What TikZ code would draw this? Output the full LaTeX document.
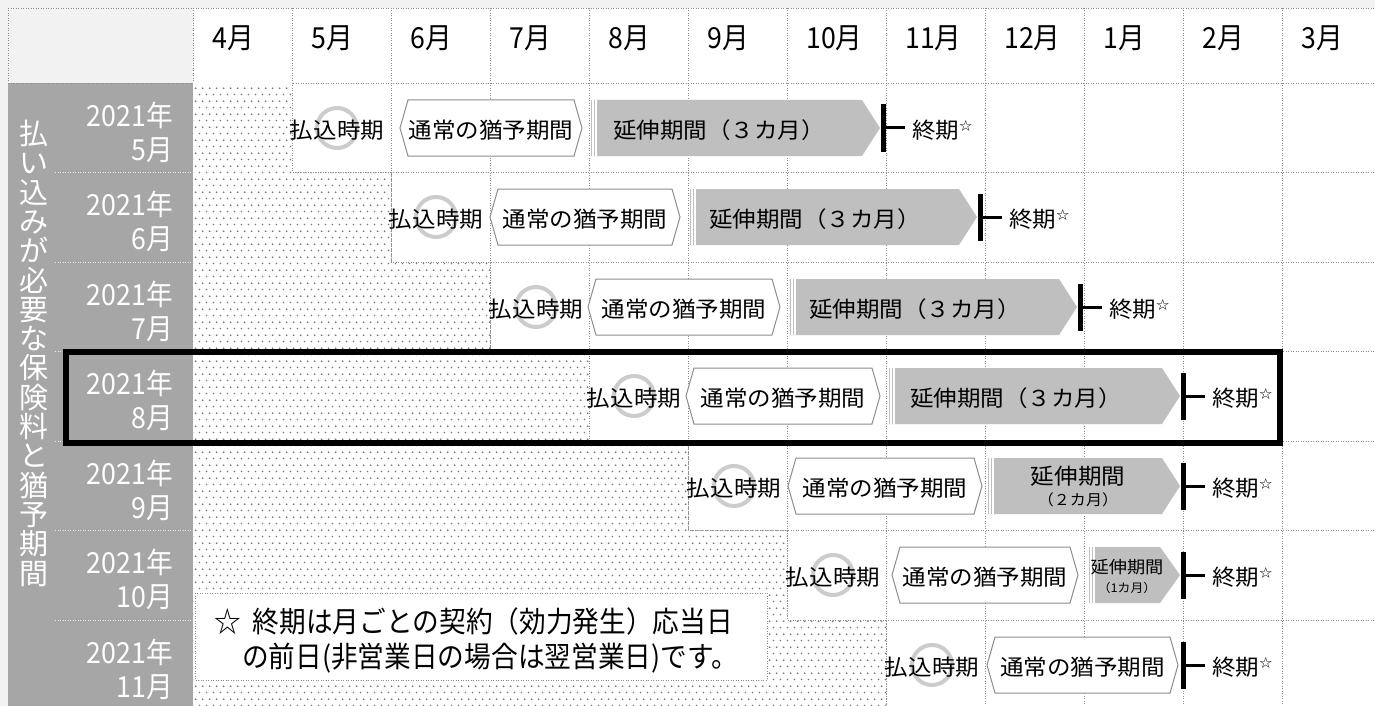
\documentclass[tikz,border=0pt]{standalone}
\usepackage{fontspec}
\setmainfont{Noto Sans CJK JP}
\newfontfamily\jpc[FakeStretch=0.92]{Noto Sans CJK JP}
\newfontfamily\jpw[FakeStretch=1.07]{Noto Sans CJK JP}
\usetikzlibrary{patterns}
\definecolor{bggray}{HTML}{F2F2F2}
\definecolor{colgray}{HTML}{A6A6A6}
\definecolor{gridgray}{HTML}{8C8C8C}
\definecolor{hexgray}{HTML}{8C8C8C}
\definecolor{extgray}{HTML}{BFBFBF}
\definecolor{ringgray}{HTML}{CCCCCC}
\definecolor{dotgray}{HTML}{7A7A7A}
\pgfdeclarepatternformonly{halftone}{\pgfqpoint{0pt}{0pt}}{\pgfqpoint{6.6pt}{13.2pt}}{\pgfqpoint{6.6pt}{13.2pt}}{%
  \pgfpathcircle{\pgfqpoint{1.6pt}{1.6pt}}{0.95pt}%
  \pgfpathcircle{\pgfqpoint{4.9pt}{8.2pt}}{0.95pt}%
  \pgfusepath{fill}}
\begin{document}
\begin{tikzpicture}[x=1pt,y=-1pt,
  gridln/.style={gridgray,line width=0.8pt,dash pattern=on 0.8pt off 1.7pt},
  sepln/.style={white!80!colgray,line width=0.8pt,dash pattern=on 0.8pt off 1.7pt},
  hexbox/.style={draw=hexgray,line width=1pt,fill=white},
  extcut/.style={white,line width=1.1pt},
  payring/.style={draw=ringgray,line width=4pt},
  paytxt/.style={inner sep=0pt,font=\jpw\fontsize{22}{26}\selectfont},
  endbar/.style={fill=black,inner sep=0pt,minimum width=5pt,minimum height=47pt},
  endtxt/.style={anchor=west,inner sep=0pt,font=\jpw\fontsize{22}{26}\selectfont},
  endln/.style={line width=3pt,shorten >=7pt},
  monthtxt/.style={anchor=west,inner sep=0pt,font=\jpc\fontsize{29}{29}\selectfont},
  yeartxt/.style={anchor=east,inner sep=0pt,text=white,font=\jpc\fontsize{29}{29}\selectfont}]
\useasboundingbox (0,0) rectangle (1375,706);
\fill[bggray] (0,0) rectangle (1375,706);
\fill[white] (193,8) rectangle (1375,706);
\fill[colgray] (8,83) rectangle (193,706);

% grid
\draw[gridln] (8,8) -- (1375,8);
\draw[gridln] (8,8) -- (8,83);
\draw[gridln] (8,83) -- (1375,83);
\draw[gridln] (193,8) -- (193,706);
\draw[gridln] (292,8) -- (292,706);
\draw[gridln] (391,8) -- (391,706);
\draw[gridln] (490,8) -- (490,706);
\draw[gridln] (589,8) -- (589,706);
\draw[gridln] (688,8) -- (688,706);
\draw[gridln] (787,8) -- (787,706);
\draw[gridln] (886,8) -- (886,706);
\draw[gridln] (985,8) -- (985,706);
\draw[gridln] (1084,8) -- (1084,706);
\draw[gridln] (1183,8) -- (1183,706);
\draw[gridln] (1282,8) -- (1282,706);
\draw[gridln] (193,172.5) -- (1375,172.5);
\draw[gridln] (193,262) -- (1375,262);
\draw[gridln] (193,351.5) -- (1375,351.5);
\draw[gridln] (193,441) -- (1375,441);
\draw[gridln] (193,530.5) -- (1375,530.5);
\draw[gridln] (193,620) -- (1375,620);
\draw[sepln] (55,172.5) -- (193,172.5);
\draw[sepln] (55,262) -- (193,262);
\draw[sepln] (55,351.5) -- (193,351.5);
\draw[sepln] (55,441) -- (193,441);
\draw[sepln] (55,530.5) -- (193,530.5);
\draw[sepln] (55,620) -- (193,620);

% months not yet due
\fill[white] (193,83) -- (292,83) -- (292,172.5) -- (391,172.5) -- (391,262) -- (490,262) -- (490,351.5) -- (589,351.5) -- (589,441) -- (688,441) -- (688,530.5) -- (787,530.5) -- (787,620) -- (886,620) -- (886,706) -- (193,706) -- cycle;
\fill[pattern=halftone,pattern color=dotgray] (193,83) -- (292,83) -- (292,172.5) -- (391,172.5) -- (391,262) -- (490,262) -- (490,351.5) -- (589,351.5) -- (589,441) -- (688,441) -- (688,530.5) -- (787,530.5) -- (787,620) -- (886,620) -- (886,706) -- (193,706) -- cycle;
\draw[gridln] (292,83) -- (292,172.5) -- (391,172.5) -- (391,262) -- (490,262) -- (490,351.5) -- (589,351.5) -- (589,441) -- (688,441) -- (688,530.5) -- (787,530.5) -- (787,620) -- (886,620) -- (886,706);

% header
\node[monthtxt] (m4) at (212,38.5) {4月};
\node[monthtxt] (m5) at (311,38.5) {5月};
\node[monthtxt] (m6) at (410,38.5) {6月};
\node[monthtxt] (m7) at (509,38.5) {7月};
\node[monthtxt] (m8) at (608,38.5) {8月};
\node[monthtxt] (m9) at (707,38.5) {9月};
\node[monthtxt] (m10) at (806,38.5) {10月};
\node[monthtxt] (m11) at (905,38.5) {11月};
\node[monthtxt] (m12) at (1004,38.5) {12月};
\node[monthtxt] (m1) at (1103,38.5) {1月};
\node[monthtxt] (m2) at (1202,38.5) {2月};
\node[monthtxt] (m3) at (1301,38.5) {3月};

% left column
\node[anchor=north,inner sep=0pt,align=center,text=white,font=\fontsize{29}{29.3}\selectfont] (side) at (34,120) {払\\い\\込\\み\\が\\必\\要\\な\\保\\険\\料\\と\\猶\\予\\期\\間};
\node[yeartxt] (y5) at (173,115) {2021年};
\node[yeartxt] (y5m) at (173,150) {5月};
\node[yeartxt] (y6) at (173,204) {2021年};
\node[yeartxt] (y6m) at (173,239) {6月};
\node[yeartxt] (y7) at (173,294) {2021年};
\node[yeartxt] (y7m) at (173,329) {7月};
\node[yeartxt] (y8) at (173,383) {2021年};
\node[yeartxt] (y8m) at (173,418) {8月};
\node[yeartxt] (y9) at (173,473) {2021年};
\node[yeartxt] (y9m) at (173,508) {9月};
\node[yeartxt] (y10) at (173,562) {2021年};
\node[yeartxt] (y10m) at (173,597) {10月};
\node[yeartxt] (y11) at (173,652) {2021年};
\node[yeartxt] (y11m) at (173,687) {11月};

% note
\filldraw[fill=white,draw=gridgray,line width=0.8pt,dash pattern=on 0.8pt off 1.7pt] (195,593) rectangle (767,680);
\node[anchor=west,inner sep=0pt,font=\jpc\fontsize{29}{29}\selectfont] (note1) at (214,621.5) {☆\hspace{12pt}終期は月ごとの契約（効力発生）応当日};
\node[anchor=west,inner sep=0pt,font=\jpc\fontsize{29}{29}\selectfont] (note2) at (242,658) {の前日(非営業日の場合は翌営業日)です。};

% 2021-05
\draw[payring] (337,128) circle[radius=20pt];
\node[paytxt] (pay5) at (337,130) {払込時期};
\draw[hexbox] (400,128) -- (408,100) -- (574,100) -- (582,128) -- (574,156) -- (408,156) -- cycle;
\node[paytxt] (grace5) at (491,130.5) {通常の猶予期間};
\fill[extgray] (591,100) -- (862,100) -- (880,128) -- (862,156) -- (591,156) -- cycle;
\draw[extcut] (593,100) -- (593,156) (596,100) -- (596,156);
\node[paytxt] (ext5) at (719,130.5) {延伸期間（３カ月）};
\node[endbar] (bar5) at (883,128) {};
\node[endtxt] (end5) at (912,130) {終期\raisebox{8pt}{\fontsize{12}{12}\selectfont ☆}};
\draw[endln] (bar5.east) -- (bar5.east -| end5.west);

% 2021-06
\draw[payring] (436,217) circle[radius=20pt];
\node[paytxt] (pay6) at (436,219) {払込時期};
\draw[hexbox] (490,217) -- (498,189) -- (672,189) -- (680,217) -- (672,245) -- (498,245) -- cycle;
\node[paytxt] (grace6) at (585,219.5) {通常の猶予期間};
\fill[extgray] (690,189) -- (959,189) -- (977,217) -- (959,245) -- (690,245) -- cycle;
\draw[extcut] (692,189) -- (692,245) (695,189) -- (695,245);
\node[paytxt] (ext6) at (815,219.5) {延伸期間（３カ月）};
\node[endbar] (bar6) at (980,217) {};
\node[endtxt] (end6) at (1009,219) {終期\raisebox{8pt}{\fontsize{12}{12}\selectfont ☆}};
\draw[endln] (bar6.east) -- (bar6.east -| end6.west);

% 2021-07
\draw[payring] (536,307) circle[radius=20pt];
\node[paytxt] (pay7) at (536,309) {払込時期};
\draw[hexbox] (588,307) -- (596,279) -- (772,279) -- (780,307) -- (772,335) -- (596,335) -- cycle;
\node[paytxt] (grace7) at (684,309.5) {通常の猶予期間};
\fill[extgray] (790,279) -- (1059,279) -- (1077,307) -- (1059,335) -- (790,335) -- cycle;
\draw[extcut] (792,279) -- (792,335) (795,279) -- (795,335);
\node[paytxt] (ext7) at (915,309.5) {延伸期間（３カ月）};
\node[endbar] (bar7) at (1080,307) {};
\node[endtxt] (end7) at (1109,309) {終期\raisebox{8pt}{\fontsize{12}{12}\selectfont ☆}};
\draw[endln] (bar7.east) -- (bar7.east -| end7.west);

% 2021-08
\draw[payring] (634,396) circle[radius=20pt];
\node[paytxt] (pay8) at (634,398) {払込時期};
\draw[hexbox] (686,396) -- (694,368) -- (872,368) -- (880,396) -- (872,424) -- (694,424) -- cycle;
\node[paytxt] (grace8) at (783,398.5) {通常の猶予期間};
\fill[extgray] (889,368) -- (1162,368) -- (1180,396) -- (1162,424) -- (889,424) -- cycle;
\draw[extcut] (891,368) -- (891,424) (894,368) -- (894,424);
\node[paytxt] (ext8) at (1016,398.5) {延伸期間（３カ月）};
\node[endbar] (bar8) at (1183,396) {};
\node[endtxt] (end8) at (1212,398) {終期\raisebox{8pt}{\fontsize{12}{12}\selectfont ☆}};
\draw[endln] (bar8.east) -- (bar8.east -| end8.west);

% 2021-09
\draw[payring] (734,486) circle[radius=20pt];
\node[paytxt] (pay9) at (734,488) {払込時期};
\draw[hexbox] (788,486) -- (796,458) -- (974,458) -- (982,486) -- (974,514) -- (796,514) -- cycle;
\node[paytxt] (grace9) at (885,488.5) {通常の猶予期間};
\fill[extgray] (988,458) -- (1162,458) -- (1180,486) -- (1162,514) -- (988,514) -- cycle;
\draw[extcut] (990,458) -- (990,514) (993,458) -- (993,514);
\node[paytxt] (ext9) at (1078,476) {延伸期間};
\node[inner sep=0pt,font=\jpw\fontsize{15}{15}\selectfont] (ext9m) at (1078,500) {（２カ月）};
\node[endbar] (bar9) at (1183,486) {};
\node[endtxt] (end9) at (1212,488) {終期\raisebox{8pt}{\fontsize{12}{12}\selectfont ☆}};
\draw[endln] (bar9.east) -- (bar9.east -| end9.west);

% 2021-10
\draw[payring] (833,575) circle[radius=20pt];
\node[paytxt] (pay10) at (833,577) {払込時期};
\draw[hexbox] (892,575) -- (900,547) -- (1070,547) -- (1078,575) -- (1070,603) -- (900,603) -- cycle;
\node[paytxt] (grace10) at (985,577.5) {通常の猶予期間};
\fill[extgray] (1089,547) -- (1160,547) -- (1180,575) -- (1160,603) -- (1089,603) -- cycle;
\draw[extcut] (1091,547) -- (1091,603) (1094,547) -- (1094,603);
\node[inner sep=0pt,font=\jpw\fontsize{17}{17}\selectfont] (ext10) at (1127,567) {延伸期間};
\node[inner sep=0pt,font=\jpw\fontsize{12}{12}\selectfont] (ext10m) at (1127,588) {（1カ月）};
\node[endbar] (bar10) at (1183,575) {};
\node[endtxt] (end10) at (1212,577) {終期\raisebox{8pt}{\fontsize{12}{12}\selectfont ☆}};
\draw[endln] (bar10.east) -- (bar10.east -| end10.west);

% 2021-11
\draw[payring] (932,665) circle[radius=20pt];
\node[paytxt] (pay11) at (932,667) {払込時期};
\draw[hexbox] (987,665) -- (995,637) -- (1170,637) -- (1178,665) -- (1170,693) -- (995,693) -- cycle;
\node[paytxt] (grace11) at (1082.5,667.5) {通常の猶予期間};
\node[endbar] (bar11) at (1183,665) {};
\node[endtxt] (end11) at (1212,667) {終期\raisebox{8pt}{\fontsize{12}{12}\selectfont ☆}};
\draw[endln] (bar11.east) -- (bar11.east -| end11.west);

% highlight
\draw[line width=6pt] (66,352) rectangle (1280,443);
\end{tikzpicture}
\end{document}
